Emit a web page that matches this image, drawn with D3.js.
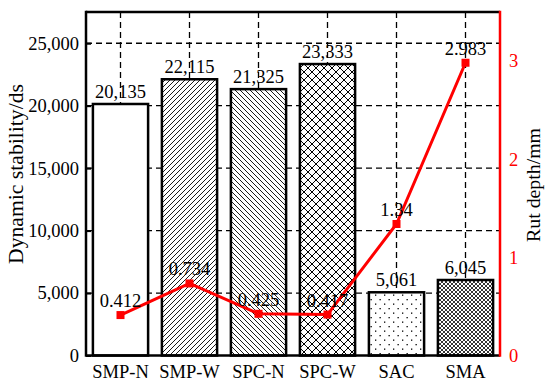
<!DOCTYPE html>
<html>
<head>
<meta charset="utf-8">
<script src="https://cdn.jsdelivr.net/npm/d3@7"></script>
<style>
  html, body { margin: 0; padding: 0; background: #fff; }
  svg text { font-family: "Liberation Serif", "DejaVu Serif", serif; }
</style>
</head>
<body>
<svg id="chart" width="550" height="386"></svg>
<script>
const categories = ["SMP-N", "SMP-W", "SPC-N", "SPC-W", "SAC", "SMA"];
const stabilityValues = [20135, 22115, 21325, 23333, 5061, 6045];
const stabilityLabels = ["20,135", "22,115", "21,325", "23,333", "5,061", "6,045"];
const rutValues = [0.412, 0.734, 0.425, 0.417, 1.34, 2.983];
const rutLabels = ["0.412", "0.734", "0.425", "0.417", "1.34", "2.983"];
const leftTicks = [0, 5000, 10000, 15000, 20000, 25000];
const rightTicks = [0, 1, 2, 3];
const patterns = ["none", "diagUp", "diagDown", "cross", "dots", "fineCross"];

const svg = d3.select("#chart");
const m = { left: 86, right: 500, top: 12, bottom: 355.5 };
const FS = 18.5;

const x = d3.scaleBand().domain(categories).range([m.left, m.right]).paddingInner(0.2).paddingOuter(0.1);
const yL = d3.scaleLinear().domain([0, 27500]).range([m.bottom, m.top]);
const yR = d3.scaleLinear().domain([0, 3.5]).range([m.bottom, m.top]);

// patterns
const defs = svg.append("defs");
function pat(id, size) {
  return defs.append("pattern").attr("id", id).attr("patternUnits", "userSpaceOnUse")
    .attr("width", size).attr("height", size);
}
let p = pat("diagUp", 5);
p.append("rect").attr("width", 5).attr("height", 5).attr("fill", "#fff");
p.append("path").attr("d", "M-1,1 L1,-1 M0,5 L5,0 M4,6 L6,4").attr("stroke", "#000").attr("stroke-width", 0.9);
p = pat("diagDown", 5);
p.append("rect").attr("width", 5).attr("height", 5).attr("fill", "#fff");
p.append("path").attr("d", "M-1,4 L1,6 M0,0 L5,5 M4,-1 L6,1").attr("stroke", "#000").attr("stroke-width", 0.9);
p = pat("cross", 8);
p.append("rect").attr("width", 8).attr("height", 8).attr("fill", "#fff");
p.append("path").attr("d", "M0,0 L8,8 M8,0 L0,8").attr("stroke", "#000").attr("stroke-width", 1);
p = pat("dots", 9);
p.append("rect").attr("width", 9).attr("height", 9).attr("fill", "#fff");
p.append("rect").attr("x", 1.5).attr("y", 2).attr("width", 1.3).attr("height", 1.3).attr("fill", "#000");
p.append("rect").attr("x", 6).attr("y", 6.5).attr("width", 1.3).attr("height", 1.3).attr("fill", "#000");
p = pat("fineCross", 4);
p.append("rect").attr("width", 4).attr("height", 4).attr("fill", "#fff");
p.append("path").attr("d", "M0,0 L4,4 M4,0 L0,4").attr("stroke", "#000").attr("stroke-width", 0.8);

// grid
const grid = svg.append("g").attr("stroke", "#000").attr("stroke-width", 1.3).attr("stroke-dasharray", "6,4");
grid.selectAll(".hg").data(leftTicks.filter(d => d > 0)).join("line")
  .attr("x1", m.left).attr("x2", m.right).attr("y1", d => yL(d)).attr("y2", d => yL(d));
grid.selectAll(".vg").data(categories).join("line")
  .attr("x1", d => x(d) + x.bandwidth() / 2).attr("x2", d => x(d) + x.bandwidth() / 2)
  .attr("y1", m.top).attr("y2", m.bottom);

// bars
svg.append("g").selectAll("rect").data(categories).join("rect")
  .attr("x", d => x(d)).attr("width", x.bandwidth())
  .attr("y", (d, i) => yL(stabilityValues[i]))
  .attr("height", (d, i) => m.bottom - yL(stabilityValues[i]))
  .attr("fill", (d, i) => patterns[i] === "none" ? "#fff" : `url(#${patterns[i]})`)
  .attr("stroke", "#000").attr("stroke-width", 2.5);

// bar labels
svg.append("g").selectAll("text").data(categories).join("text")
  .attr("x", d => x(d) + x.bandwidth() / 2)
  .attr("y", (d, i) => yL(stabilityValues[i]) - 6)
  .attr("text-anchor", "middle").attr("font-size", FS).attr("fill", "#000")
  .text((d, i) => stabilityLabels[i]);

// left axis
const axL = svg.append("g").attr("transform", `translate(${m.left},0)`)
  .call(d3.axisLeft(yL).tickValues(leftTicks).tickSizeInner(-5).tickSizeOuter(0).tickPadding(7)
    .tickFormat(d3.format(",")));
axL.select(".domain").remove();
axL.selectAll(".tick line").attr("stroke", "#000").attr("stroke-width", 2);
axL.selectAll(".tick text").attr("font-size", FS).attr("fill", "#000")
  .style("font-family", '"Liberation Serif", serif');

// right axis
const axR = svg.append("g").attr("transform", `translate(${m.right},0)`)
  .call(d3.axisRight(yR).tickValues(rightTicks).tickSize(0).tickPadding(9).tickFormat(d3.format("d")));
axR.select(".domain").remove();
axR.selectAll(".tick text").attr("font-size", FS).attr("fill", "#ff0000")
  .style("font-family", '"Liberation Serif", serif');

// bottom axis
const axB = svg.append("g").attr("transform", `translate(0,${m.bottom})`)
  .call(d3.axisBottom(x).tickSize(0).tickPadding(9));
axB.select(".domain").remove();
axB.selectAll(".tick text").attr("font-size", FS).attr("fill", "#000")
  .style("font-family", '"Liberation Serif", serif');

// frame
svg.append("line").attr("x1", m.left).attr("x2", m.right).attr("y1", m.top).attr("y2", m.top)
  .attr("stroke", "#000").attr("stroke-width", 2.5);
svg.append("line").attr("x1", m.left).attr("x2", m.left).attr("y1", m.top - 1.25).attr("y2", m.bottom + 1.25)
  .attr("stroke", "#000").attr("stroke-width", 2.5);
svg.append("line").attr("x1", m.left).attr("x2", m.right).attr("y1", m.bottom).attr("y2", m.bottom)
  .attr("stroke", "#000").attr("stroke-width", 2.5);
svg.append("line").attr("x1", m.right).attr("x2", m.right).attr("y1", m.top - 1.25).attr("y2", m.bottom + 1.25)
  .attr("stroke", "#ff0000").attr("stroke-width", 2.5);

// rut line
const cx = d => x(d) + x.bandwidth() / 2;
const line = d3.line().x((d, i) => cx(categories[i])).y(d => yR(d));
svg.append("path").datum(rutValues).attr("d", line)
  .attr("fill", "none").attr("stroke", "#ff0000").attr("stroke-width", 3);
svg.append("g").selectAll("rect").data(rutValues).join("rect")
  .attr("x", (d, i) => cx(categories[i]) - 4).attr("y", d => yR(d) - 4)
  .attr("width", 8).attr("height", 8).attr("fill", "#ff0000");
svg.append("g").selectAll("text").data(rutValues).join("text")
  .attr("x", (d, i) => cx(categories[i]))
  .attr("y", d => yR(d) - 8)
  .attr("text-anchor", "middle").attr("font-size", FS).attr("fill", "#000")
  .text((d, i) => rutLabels[i]);

// axis titles (font size fitted to the reference text length)
function fit(sel, target) {
  const len = sel.node().getComputedTextLength();
  const fs = parseFloat(sel.attr("font-size"));
  sel.attr("font-size", fs * target / len);
}
const t1 = svg.append("text").attr("transform", "translate(23,174) rotate(-90)")
  .attr("text-anchor", "middle").attr("font-size", 20).attr("fill", "#000")
  .text("Dynamic stability/ds");
fit(t1, 180);
const t2 = svg.append("text").attr("transform", "translate(540,185) rotate(-90)")
  .attr("text-anchor", "middle").attr("font-size", 20).attr("fill", "#000")
  .text("Rut depth/mm");
fit(t2, 114);
</script>
</body>
</html>
